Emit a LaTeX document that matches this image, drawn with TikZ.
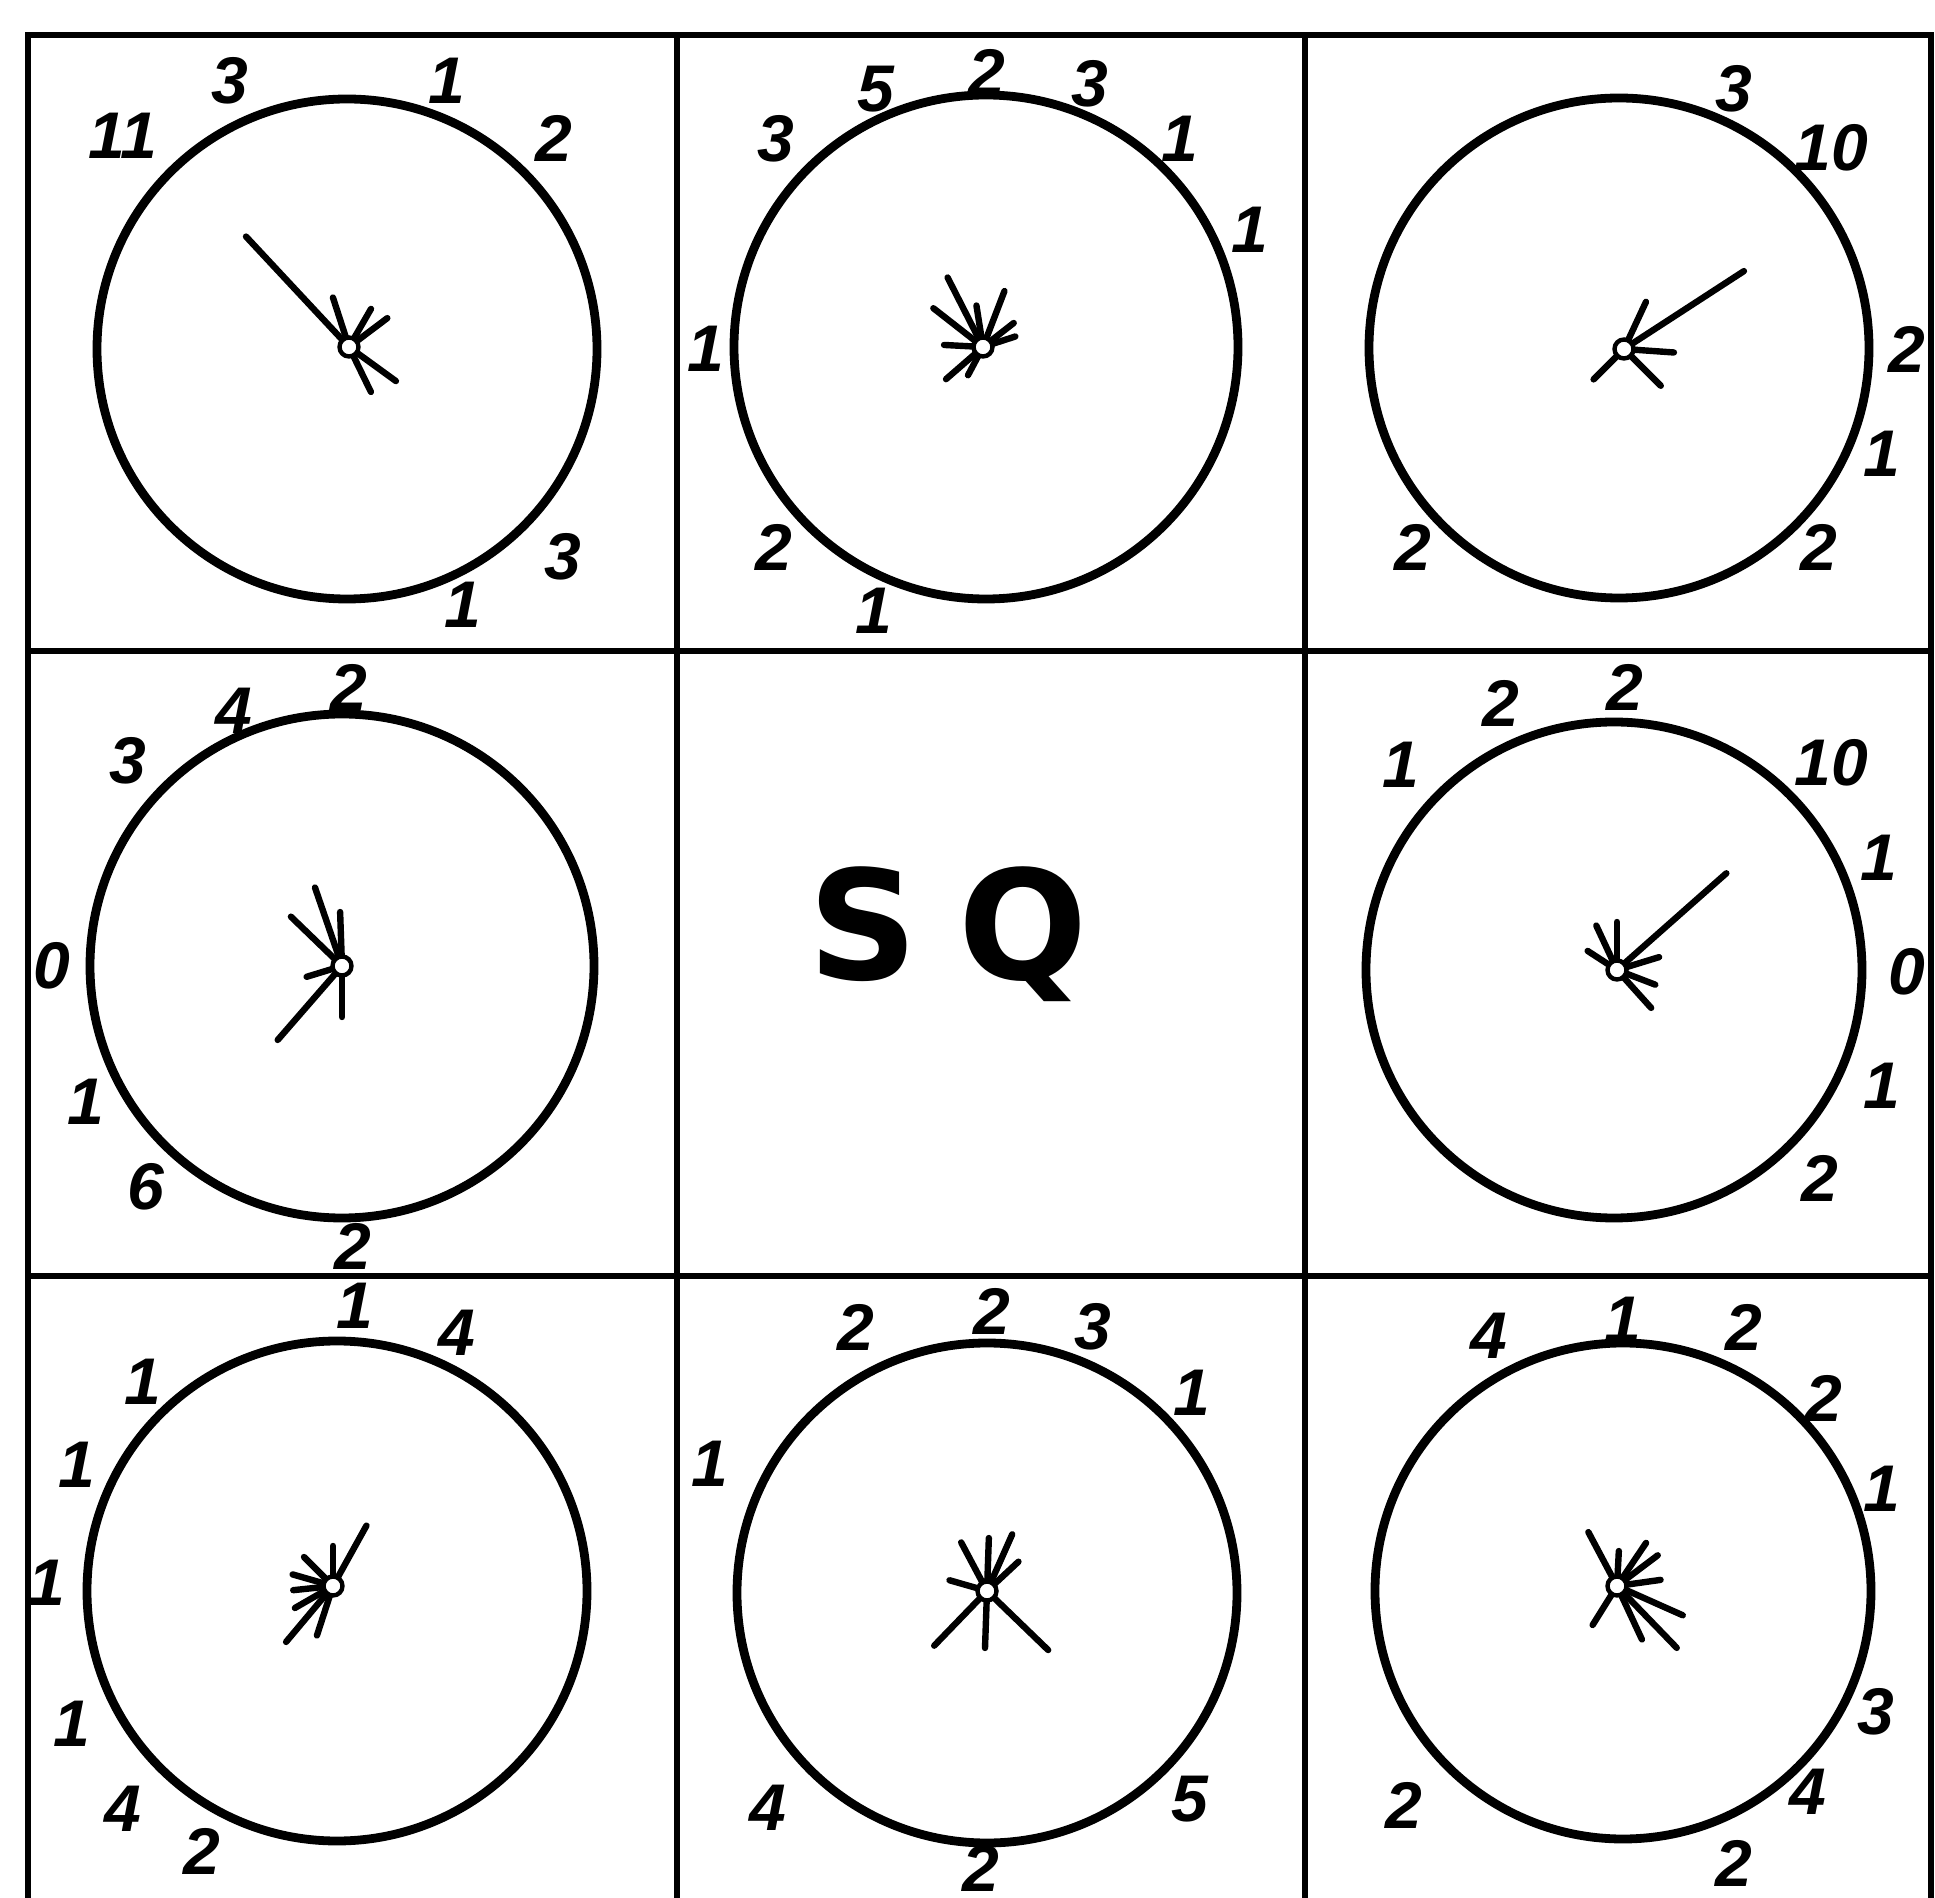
\documentclass[tikz,border=0pt]{standalone}
\usepackage{fontspec}
\setmainfont{Liberation Sans}
\newfontfamily\sqfont{DejaVu Sans}
\begin{document}
\begin{tikzpicture}[x=0.5pt,y=0.5pt,
  gridline/.style={line width=2.8pt},
  ring/.style={line width=4.4pt},
  ray/.style={line width=3.2pt,line cap=round},
  hub/.style={circle,draw,fill=white,line width=2.2pt,minimum size=9.5pt,inner sep=0pt},
  lbl/.style={font=\fontsize{33}{35}\selectfont\bfseries\itshape,inner sep=0pt},
  big/.style={font=\sqfont\bfseries\fontsize{76}{80}\selectfont,inner sep=0pt}]
\useasboundingbox (0,0) rectangle (1935,-1898);
% grid
\draw[gridline] (28,-1898) -- (28,-35) -- (1931,-35) -- (1931,-1898);
\draw[gridline] (28,-651) -- (1931,-651);
\draw[gridline] (28,-1276) -- (1931,-1276);
\draw[gridline] (677,-35) -- (677,-1898);
\draw[gridline] (1305,-35) -- (1305,-1898);
% circles
\coordinate (c11) at (347,-349);
\coordinate (c12) at (986,-347);
\coordinate (c13) at (1619,-348);
\coordinate (c21) at (342,-966);
\coordinate (c23) at (1614,-970);
\coordinate (c31) at (337,-1591);
\coordinate (c32) at (987,-1593);
\coordinate (c33) at (1623,-1591);
\foreach \c/\r in {c11/250,c12/252,c13/250,c21/252,c23/248,c31/250,c32/250,c33/248}
  \draw[ring] (\c) circle[radius=\r];
% hubs and rays
\coordinate (h11) at (349,-347);
\coordinate (h12) at (983,-347);
\coordinate (h13) at (1624,-349);
\coordinate (h21) at (342,-966);
\coordinate (h23) at (1617,-970);
\coordinate (h31) at (333,-1586);
\coordinate (h32) at (987,-1591);
\coordinate (h33) at (1617,-1586);
\foreach \a/\l in {133/151,108/52,60/44,37/48,-64/50,-36/58}
  \draw[ray] (h11) -- ++(\a:\l);
\foreach \a/\l in {117/78,142/63,99/42,69/60,38/39,18/34,177/39,221/49,242/32}
  \draw[ray] (h12) -- ++(\a:\l);
\foreach \a/\l in {33/143,65/52,-4/50,-45/52,225/43}
  \draw[ray] (h13) -- ++(\a:\l);
\foreach \a/\l in {109/83,136/71,92/54,197/37,229/98,270/51}
  \draw[ray] (h21) -- ++(\a:\l);
\foreach \a/\l in {41.5/146,115/49,90/48,147/35,17/44,-21/41,-48/51}
  \draw[ray] (h23) -- ++(\a:\l);
\foreach \a/\l in {61/69,90/40,135/41,164/42,186/40,210/44,230/73,252/52}
  \draw[ray] (h31) -- ++(\a:\l);
\foreach \a/\l in {118/55,88/53,66/62,43/43,164/39,226/76,268/57,-44/85}
  \draw[ray] (h32) -- ++(\a:\l);
\foreach \a/\l in {118/61,87/35,56/52,37/51,8/44,-24/72,-46/86,-65/59,238/46}
  \draw[ray] (h33) -- ++(\a:\l);
\foreach \h in {h11,h12,h13,h21,h23,h31,h32,h33}
  \node[hub] (n\h) at (\h) {};
% labels
\foreach \x/\y/\t [count=\i] in {123/136/11,230/81/3,447/81/1,554/138/2,563/557/3,463/605/1}
  \node[lbl] (la\i) at (\x,-\y) {\t};
\foreach \x/\y/\t [count=\i] in {776/139/3,876/89/5,987/72/2,1090/84/3,1180/139/1,1250/230/1,706/349/1,774/547/2,874/611/1}
  \node[lbl] (lb\i) at (\x,-\y) {\t};
\foreach \x/\y/\t [count=\i] in {1734/89/3,1831/148/10,1907/349/2,1882/454/1,1819/547/2,1413/547/2}
  \node[lbl] (lc\i) at (\x,-\y) {\t};
\foreach \x/\y/\t [count=\i] in {128/761/3,234/711/4,349/687/2,52/966/0,86/1102/1,146/1187/6,353/1246/2}
  \node[lbl] (ld\i) at (\x,-\y) {\t};
\foreach \x/\y/\t [count=\i] in {1401/765/1,1501/703/2,1625/687/2,1831/763/10,1879/858/1,1907/972/0,1882/1086/1,1820/1178/2}
  \node[lbl] (le\i) at (\x,-\y) {\t};
\foreach \x/\y/\t [count=\i] in {355/1306/1,457/1333/4,143/1382/1,77/1465/1,47/1583/1,72/1724/1,123/1809/4,202/1851/2}
  \node[lbl] (lf\i) at (\x,-\y) {\t};
\foreach \x/\y/\t [count=\i] in {856/1327/2,992/1311/2,1093/1327/3,1192/1393/1,710/1464/1,768/1808/4,1190/1799/5,981/1868/2}
  \node[lbl] (lg\i) at (\x,-\y) {\t};
\foreach \x/\y/\t [count=\i] in {1489/1336/4,1623/1320/1,1744/1327/2,1824/1398/2,1882/1489/1,1876/1712/3,1808/1792/4,1734/1863/2,1404/1805/2}
  \node[lbl] (lh\i) at (\x,-\y) {\t};
% centre text
\node[big] (sq) at (948,-934) {S\hspace{20pt}Q};
\end{tikzpicture}
\end{document}
